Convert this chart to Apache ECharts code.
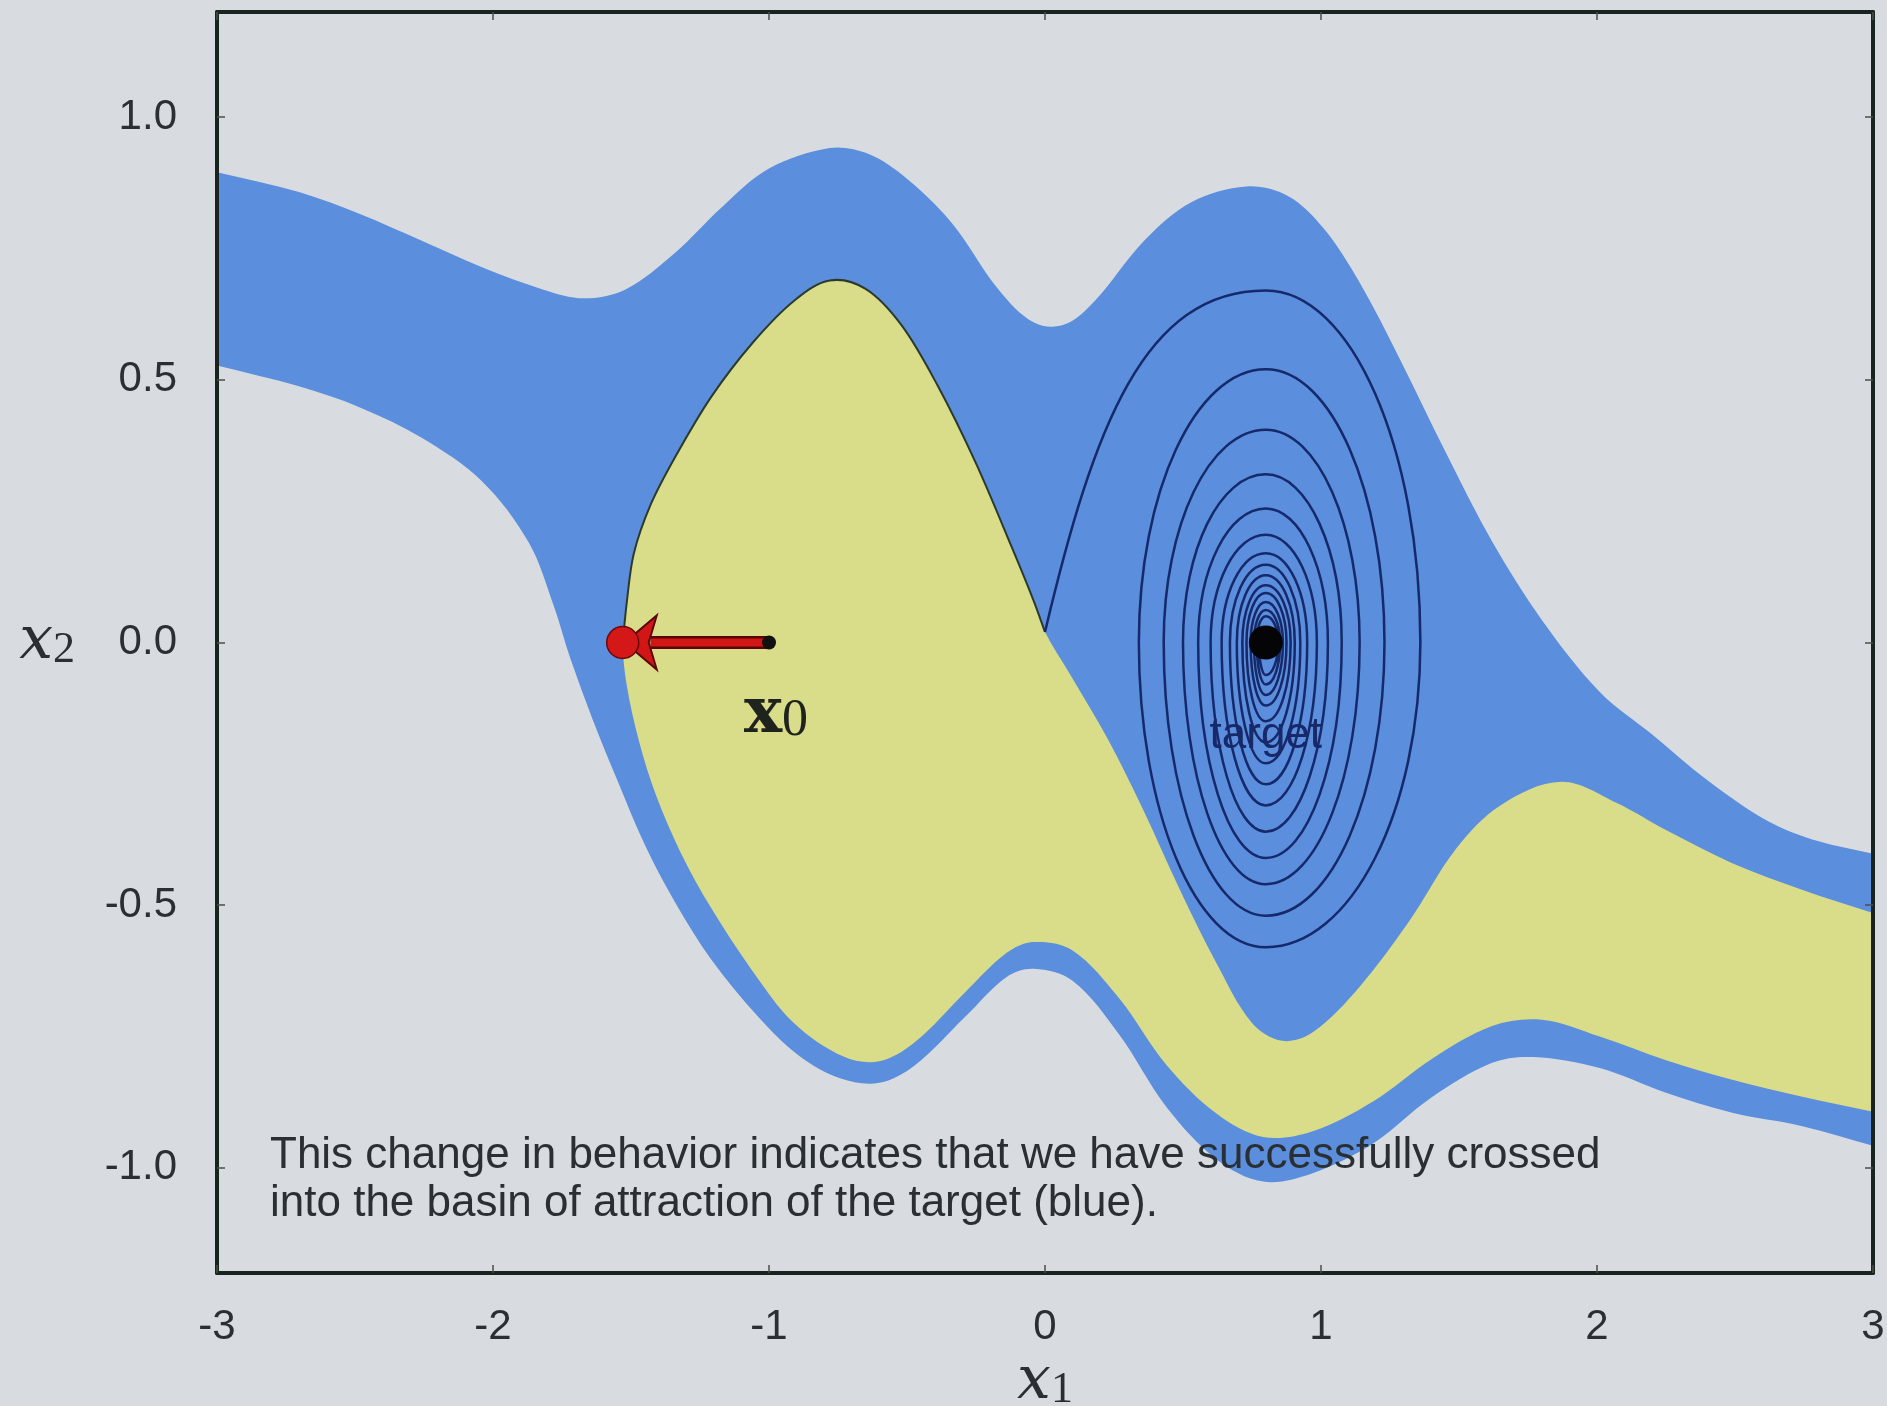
<!DOCTYPE html>
<html><head><meta charset="utf-8">
<script src="https://cdn.jsdelivr.net/npm/echarts@6/dist/echarts.min.js"></script>
<style>html,body{margin:0;padding:0;background:#d8dce0;}#c{width:1887px;height:1406px;}</style>
</head><body><div id="c"></div>
<script>
// ---- tick values ----
const xTickValues = [-3, -2, -1, 0, 1, 2, 3];
const yTickValues = [-1.0, -0.5, 0.0, 0.5, 1.0];

// ---- basin of attraction of the target (blue band) ----
const blueUpper = [[-3.0,0.895],[-2.70,0.857],[-2.48,0.815],[-2.26,0.765],[-2.04,0.714],[-1.82,0.672],[-1.67,0.655],[-1.52,0.672],[-1.34,0.742],[-1.17,0.829],[-1.00,0.902],[-0.78,0.941],[-0.65,0.932],[-0.52,0.891],[-0.34,0.800],[-0.17,0.673],[-0.04,0.609],[0.07,0.605],[0.18,0.650],[0.36,0.765],[0.53,0.838],[0.73,0.868],[0.88,0.850],[1.01,0.788],[1.14,0.685],[1.29,0.535],[1.45,0.364],[1.62,0.192],[1.80,0.043],[2.01,-0.094],[2.20,-0.175],[2.40,-0.262],[2.62,-0.340],[2.80,-0.378],[3.0,-0.402]];
const blueLower = [[-3.0,0.527],[-2.70,0.487],[-2.48,0.447],[-2.26,0.390],[-2.04,0.307],[-1.87,0.190],[-1.78,0.070],[-1.72,-0.030],[-1.64,-0.145],[-1.545,-0.268],[-1.45,-0.385],[-1.34,-0.495],[-1.21,-0.603],[-1.04,-0.712],[-0.89,-0.787],[-0.74,-0.830],[-0.60,-0.838],[-0.47,-0.804],[-0.29,-0.713],[-0.14,-0.637],[-0.04,-0.621],[0.10,-0.644],[0.27,-0.747],[0.44,-0.884],[0.62,-0.983],[0.79,-1.026],[0.97,-1.010],[1.19,-0.953],[1.40,-0.866],[1.62,-0.800],[1.77,-0.789],[2.01,-0.810],[2.25,-0.857],[2.49,-0.895],[2.74,-0.920],[3.0,-0.958]];

// ---- other basin (yellow) ----
const separatrix = [[-1.53,0.0],[-1.515,0.078],[-1.49,0.169],[-1.43,0.261],[-1.34,0.353],[-1.21,0.467],[-1.06,0.570],[-0.91,0.650],[-0.78,0.689],[-0.65,0.673],[-0.52,0.604],[-0.39,0.490],[-0.25,0.341],[-0.12,0.181],[-0.04,0.078],[0.0,0.02]];
const basinEdge = [[0.09,-0.060],[0.23,-0.186],[0.36,-0.323],[0.49,-0.472],[0.62,-0.609],[0.75,-0.724],[0.86,-0.758],[0.97,-0.742],[1.14,-0.655],[1.32,-0.530],[1.49,-0.392],[1.65,-0.310],[1.87,-0.265],[2.07,-0.305],[2.25,-0.357],[2.49,-0.420],[2.74,-0.470],[3.0,-0.515]];
const yellowLower = [[-1.53,0.0],[-1.515,-0.083],[-1.47,-0.190],[-1.41,-0.290],[-1.32,-0.400],[-1.21,-0.505],[-1.06,-0.625],[-0.91,-0.724],[-0.73,-0.788],[-0.60,-0.797],[-0.47,-0.760],[-0.29,-0.666],[-0.14,-0.591],[-0.04,-0.570],[0.10,-0.586],[0.27,-0.678],[0.44,-0.804],[0.62,-0.896],[0.79,-0.941],[0.97,-0.930],[1.19,-0.873],[1.40,-0.793],[1.62,-0.730],[1.80,-0.718],[2.01,-0.750],[2.25,-0.795],[2.49,-0.832],[2.74,-0.864],[3.0,-0.893]];

// ---- trajectory spiralling into the target ----
const spiralStart = [0.0, 0.02];
const ringTop    = [0.67, 0.52, 0.405, 0.32, 0.255, 0.205, 0.17, 0.148, 0.128, 0.109, 0.094, 0.077, 0.062, 0.05];
const ringBottom = [-0.58, -0.52, -0.46, -0.41, -0.36, -0.31, -0.27, -0.23, -0.19, -0.15, -0.12, -0.10, -0.08, -0.062];
const ringLeft   = [0.34, 0.43, 0.50, 0.555, 0.60, 0.64, 0.67, 0.695, 0.715, 0.73, 0.745, 0.757, 0.767, 0.775];
const ringRight  = [1.36, 1.23, 1.14, 1.075, 1.025, 0.985, 0.95, 0.925, 0.905, 0.89, 0.875, 0.862, 0.852, 0.845];

// ---- points ----
const targetPoint = [0.80, 0.0];
const x0Point = [-1.0, 0.0];
const arrowEnd = [-1.53, 0.0];

const FG = '#2a2f33';
const SANS = '"Liberation Sans", Arial, sans-serif';

function smoothSegs(pts) {
  const n = pts.length;
  const tan = i => {
    const a = pts[Math.max(0, i - 1)], b = pts[Math.min(n - 1, i + 1)];
    const dx = b[0] - a[0], dy = b[1] - a[1], L = Math.hypot(dx, dy) || 1;
    return [dx / L, dy / L];
  };
  let d = '';
  for (let i = 0; i < n - 1; i++) {
    const p1 = pts[i], p2 = pts[i + 1];
    const len = Math.hypot(p2[0] - p1[0], p2[1] - p1[1]);
    const t1 = tan(i), t2 = tan(i + 1);
    const c1 = [p1[0] + t1[0] * len / 3, p1[1] + t1[1] * len / 3];
    const c2 = [p2[0] - t2[0] * len / 3, p2[1] - t2[1] * len / 3];
    d += 'C' + c1[0] + ',' + c1[1] + ' ' + c2[0] + ',' + c2[1] + ' ' + p2[0] + ',' + p2[1];
  }
  return d;
}
function px(api, arr) { return arr.map(p => api.coord(p)); }

function bluePath(api) {
  const up = px(api, blueUpper);
  const lo = px(api, blueLower.slice().reverse());
  return 'M' + up[0][0] + ',' + up[0][1] + smoothSegs(up) + 'L' + lo[0][0] + ',' + lo[0][1] + smoothSegs(lo) + 'Z';
}
function yellowPath(api) {
  const all = yellowLower.slice().reverse().concat(separatrix.slice(1), basinEdge);
  const p = px(api, all);
  return 'M' + p[0][0] + ',' + p[0][1] + smoothSegs(p) + 'Z';
}
function sepPath(api) {
  const p = px(api, separatrix);
  return 'M' + p[0][0] + ',' + p[0][1] + smoothSegs(p);
}
function spiralPath(api) {
  const cx = targetPoint[0], cy = targetPoint[1], k = 0.5523;
  let cur = api.coord(spiralStart);
  let d = 'M' + cur[0] + ',' + cur[1];
  const t0 = api.coord([cx, ringTop[0]]);
  d += 'C' + (cur[0] + 0.22 * (t0[0] - cur[0])) + ',' + (cur[1] + 0.6 * (t0[1] - cur[1])) + ' ' + (t0[0] - k * (t0[0] - cur[0])) + ',' + t0[1] + ' ' + t0[0] + ',' + t0[1];
  cur = t0;
  let horiz = true;
  for (let i = 0; i < ringTop.length; i++) {
    const pts = [api.coord([ringRight[i], cy]), api.coord([cx, ringBottom[i]]), api.coord([ringLeft[i], cy])];
    if (i + 1 < ringTop.length) pts.push(api.coord([cx, ringTop[i + 1]]));
    for (const q of pts) {
      let c1, c2;
      if (horiz) { c1 = [cur[0] + k * (q[0] - cur[0]), cur[1]]; c2 = [q[0], q[1] + k * (cur[1] - q[1])]; }
      else { c1 = [cur[0], cur[1] + k * (q[1] - cur[1])]; c2 = [q[0] + k * (cur[0] - q[0]), q[1]]; }
      d += 'C' + c1[0] + ',' + c1[1] + ' ' + c2[0] + ',' + c2[1] + ' ' + q[0] + ',' + q[1];
      cur = q; horiz = !horiz;
    }
  }
  return d;
}
function pathSeries(build, style, z) {
  return { type: 'custom', coordinateSystem: 'cartesian2d', data: [[0, 0]], z: z, silent: true, clip: true,
    renderItem: (params, api) => ({ type: 'path', shape: { pathData: build(api) }, style: style }) };
}

const axisLineStyle = { color: '#1a241f', width: 4 };
const tickStyle = { show: true, inside: true, length: 8, lineStyle: { color: '#4a4f4a', width: 1.5 } };
const subRich = {
  i: { fontFamily: '"DejaVu Serif", serif', fontStyle: 'italic', fontSize: 60, color: FG },
  s: { fontFamily: '"Liberation Serif", serif', fontSize: 44, color: FG, verticalAlign: 'bottom', lineHeight: 30 }
};

const chart = echarts.init(document.getElementById('c'), null, { renderer: 'canvas' });
chart.setOption({
  backgroundColor: '#d8dce0',
  animation: false,
  grid: { left: 217, top: 12, width: 1656, height: 1261, outerBoundsMode: 'none', containLabel: false },
  xAxis: [
    { type: 'value', min: -3, max: 3, interval: 1, position: 'bottom', z: 10,
      axisLine: { show: true, onZero: false, lineStyle: axisLineStyle },
      axisTick: Object.assign({ customValues: xTickValues }, tickStyle),
      axisLabel: { customValues: xTickValues, fontSize: 42, fontFamily: SANS, color: FG, margin: 33 },
      splitLine: { show: false },
      name: '{i|x}{s|1}', nameLocation: 'middle', nameGap: 78, nameTextStyle: { rich: subRich } },
    { type: 'value', min: -3, max: 3, interval: 1, position: 'top', z: 10,
      axisLine: { show: true, onZero: false, lineStyle: axisLineStyle },
      axisTick: Object.assign({ customValues: xTickValues }, tickStyle),
      axisLabel: { show: false }, splitLine: { show: false } }
  ],
  yAxis: [
    { type: 'value', min: -1.2, max: 1.2, position: 'left', z: 10,
      axisLine: { show: true, onZero: false, lineStyle: axisLineStyle },
      axisTick: Object.assign({ customValues: yTickValues }, tickStyle),
      axisLabel: { customValues: yTickValues, formatter: v => v.toFixed(1), fontSize: 42, fontFamily: SANS, color: FG, margin: 40 },
      splitLine: { show: false },
      name: '{i|x}{s|2}', nameLocation: 'middle', nameGap: 142, nameRotate: 0, nameTextStyle: { rich: subRich } },
    { type: 'value', min: -1.2, max: 1.2, position: 'right', z: 10,
      axisLine: { show: true, onZero: false, lineStyle: axisLineStyle },
      axisTick: Object.assign({ customValues: yTickValues }, tickStyle),
      axisLabel: { show: false }, splitLine: { show: false } }
  ],
  series: [
    pathSeries(bluePath, { fill: '#5b8edc' }, 1),
    pathSeries(yellowPath, { fill: '#d9dc88' }, 2),
    pathSeries(sepPath, { fill: null, stroke: '#2c3a2c', lineWidth: 2 }, 3),
    pathSeries(spiralPath, { fill: null, stroke: '#15296b', lineWidth: 2.5 }, 3),
    { type: 'custom', coordinateSystem: 'cartesian2d', data: [[0, 0]], z: 4, silent: true,
      renderItem: (params, api) => {
        const s = api.coord(x0Point), e = api.coord(arrowEnd);
        const hb = e[0] + 32;
        return { type: 'group', children: [
          { type: 'line', shape: { x1: hb - 4, y1: e[1], x2: s[0], y2: s[1] }, style: { stroke: '#5c0707', lineWidth: 13 } },
          { type: 'line', shape: { x1: hb - 4, y1: e[1], x2: s[0], y2: s[1] }, style: { stroke: '#d21616', lineWidth: 8 } },
          { type: 'polygon', shape: { points: [[e[0] + 2, e[1]], [hb + 2, e[1] - 27], [hb - 6, e[1]], [hb + 2, e[1] + 27]] },
            style: { fill: '#d21616', stroke: '#5c0707', lineWidth: 2 } }
        ] };
      } },
    { type: 'scatter', z: 5, silent: true, symbol: 'circle', symbolSize: 32,
      itemStyle: { color: '#d41818', borderColor: '#6a0808', borderWidth: 1.5, opacity: 1 },
      data: [arrowEnd] },
    { type: 'scatter', z: 5, silent: true, symbol: 'circle', symbolSize: 14,
      itemStyle: { color: '#111111', opacity: 1 },
      label: { show: true, position: 'bottom', distance: 34, offset: [7, 0], formatter: '{b|x}{s|0}',
        rich: { b: { fontFamily: '"DejaVu Serif", serif', fontWeight: 'bold', fontSize: 64, color: '#1e231e' },
                s: { fontFamily: '"Liberation Serif", serif', fontSize: 52, color: '#1e231e', verticalAlign: 'bottom', lineHeight: 34 } } },
      data: [x0Point] },
    { type: 'scatter', z: 5, silent: true, symbol: 'circle', symbolSize: 34,
      itemStyle: { color: '#050508', opacity: 1 },
      label: { show: true, position: 'bottom', distance: 54, formatter: 'target', fontFamily: SANS, fontSize: 44, color: '#18296a' },
      data: [targetPoint] }
  ],
  graphic: [
    { type: 'text', left: 270, top: 1132, z: 100, silent: true,
      style: { text: 'This change in behavior indicates that we have successfully crossed\ninto the basin of attraction of the target (blue).',
        fontFamily: SANS, fontSize: 44, lineHeight: 48, fill: FG } }
  ]
});
</script></body></html>
